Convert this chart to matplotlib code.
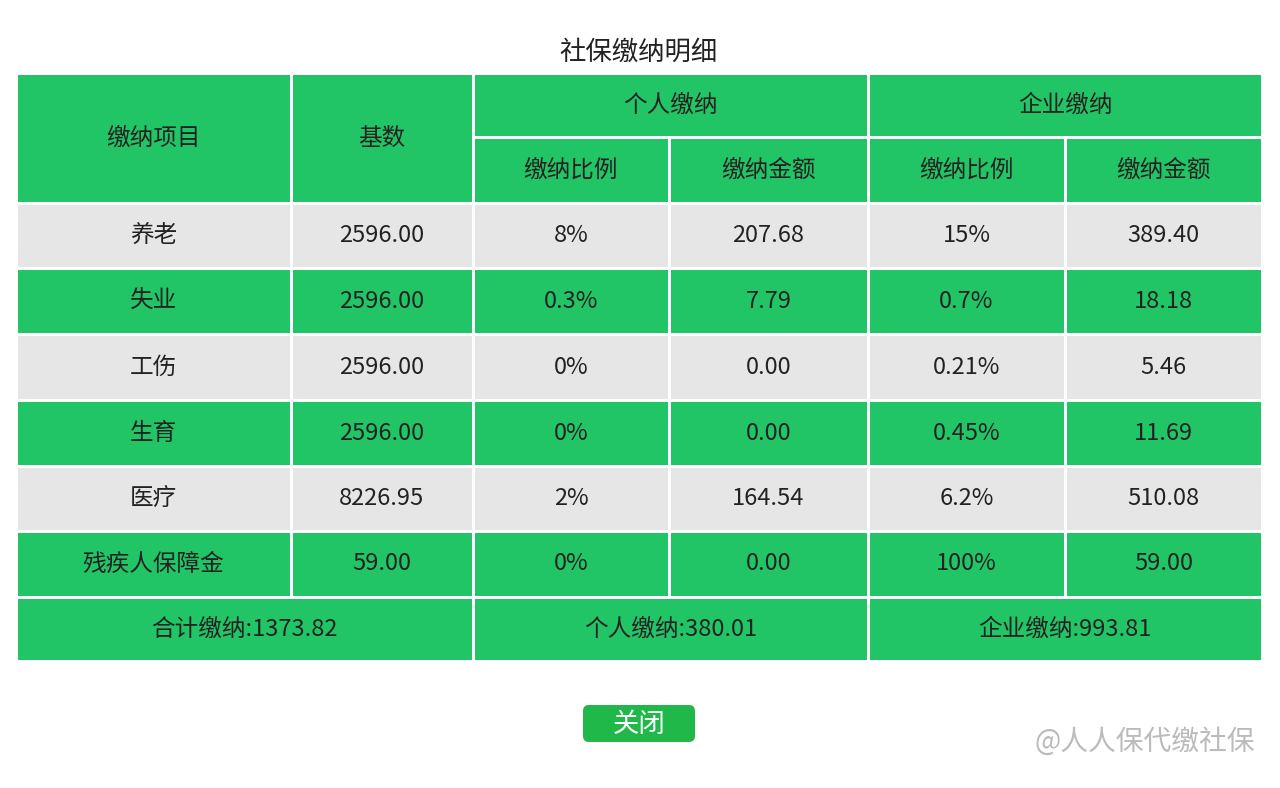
import matplotlib
matplotlib.use("Agg")
import matplotlib.pyplot as plt
from matplotlib.patches import Rectangle, FancyBboxPatch

plt.rcParams["font.family"] = ["Noto Sans CJK SC", "DejaVu Sans"]

title = "社保缴纳明细"
items = ["养老", "失业", "工伤", "生育", "医疗", "残疾人保障金"]
base = ["2596.00", "2596.00", "2596.00", "2596.00", "8226.95", "59.00"]
p_rate = ["8%", "0.3%", "0%", "0%", "2%", "0%"]
p_amt = ["207.68", "7.79", "0.00", "0.00", "164.54", "0.00"]
c_rate = ["15%", "0.7%", "0.21%", "0.45%", "6.2%", "100%"]
c_amt = ["389.40", "18.18", "5.46", "11.69", "510.08", "59.00"]
totals = ["合计缴纳:1373.82", "个人缴纳:380.01", "企业缴纳:993.81"]

GREEN = "#22C566"
GRAY = "#E6E6E6"
TXT = "#222222"

fig = plt.figure(figsize=(12.8, 7.88), dpi=100)
ax = fig.add_axes([0, 0, 1, 1])
ax.set_xlim(0, 1280); ax.set_ylim(788, 0); ax.axis("off")

xs = [16, 291, 473, 669, 868, 1065, 1262]
g = 1.5

def cell(x0, x1, y0, y1, color, text, size=17):
    ax.add_patch(Rectangle((x0 + g, y0 + g), x1 - x0 - 2 * g, y1 - y0 - 2 * g, color=color, lw=0))
    ax.text((x0 + x1) / 2, (y0 + y1) / 2, text, ha="center", va="center", fontsize=size, color=TXT)

ax.text(638, 52, title, ha="center", va="center", fontsize=19, color=TXT)
# header
cell(xs[0], xs[1], 73, 203, GREEN, "缴纳项目")
cell(xs[1], xs[2], 73, 203, GREEN, "基数")
cell(xs[2], xs[4], 73, 137, GREEN, "个人缴纳")
cell(xs[4], xs[6], 73, 137, GREEN, "企业缴纳")
for i, t in enumerate(["缴纳比例", "缴纳金额", "缴纳比例", "缴纳金额"]):
    cell(xs[2 + i], xs[3 + i], 137, 203, GREEN, t)

ry = [203, 268, 334, 400, 466, 531, 597]
for r in range(len(items)):
    col = GRAY if r % 2 == 0 else GREEN
    vals = [items[r], base[r], p_rate[r], p_amt[r], c_rate[r], c_amt[r]]
    for c, v in enumerate(vals):
        cell(xs[c], xs[c + 1], ry[r], ry[r + 1], col, v)

cell(xs[0], xs[2], 597, 661, GREEN, totals[0])
cell(xs[2], xs[4], 597, 661, GREEN, totals[1])
cell(xs[4], xs[6], 597, 661, GREEN, totals[2])

ax.add_patch(FancyBboxPatch((583, 705), 112, 37, boxstyle="round,pad=0,rounding_size=6",
                            color="#21B84A", lw=0))
ax.text(639, 724, "关闭", ha="center", va="center", fontsize=19, color="white")
ax.text(1255, 742, "@人人保代缴社保", ha="right", va="center", fontsize=20, color="#BBBBBB")

fig.savefig("out.png", dpi=100, facecolor="white")
